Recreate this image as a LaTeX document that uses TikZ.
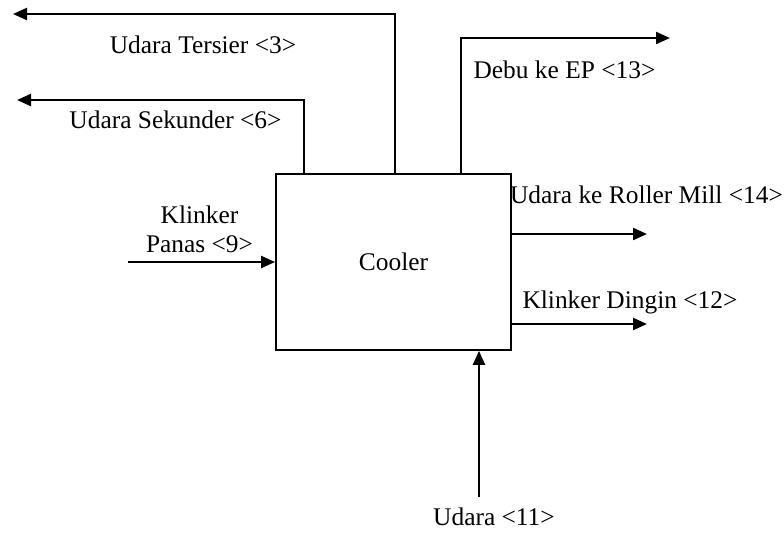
\documentclass[tikz,border=0pt]{standalone}
\usepackage{fontspec}
\setmainfont{Liberation Serif}
\usetikzlibrary{arrows.meta}
\begin{document}
\begin{tikzpicture}[x=0.5pt,y=-0.5pt,
		flow/.style={line width=1.1pt,-{Triangle[length=7pt,width=6pt]}},
		lbl/.style={font=\fontsize{12.7}{14.5}\selectfont,inner sep=0pt,anchor=base}]
	\useasboundingbox (0,0) rectangle (784,538);
	\node[draw,line width=0.9pt,minimum width=117.5pt,minimum height=88pt,font=\fontsize{12.7}{14.5}\selectfont] (cooler) at (393.5,262) {Cooler};
	\coordinate (tersier) at (395,14);
	\coordinate (tersierend) at (13,14);
	\coordinate (sekunder) at (304,100);
	\coordinate (sekunderend) at (17,100);
	\coordinate (debu) at (461,38);
	\coordinate (debuend) at (670,38);
	\coordinate (mill) at (647,234);
	\coordinate (dingin) at (647,324);
	\coordinate (udara) at (479,497);
	\coordinate (panas) at (128,262);
	\draw[flow] (cooler.north -| tersier) -- (tersier) -- (tersierend);
	\draw[flow] (cooler.north -| sekunder) -- (sekunder) -- (sekunderend);
	\draw[flow] (cooler.north -| debu) -- (debu) -- (debuend);
	\draw[flow] (cooler.east |- mill) -- (mill);
	\draw[flow] (cooler.east |- dingin) -- (dingin);
	\draw[flow] (udara) -- (cooler.south -| udara);
	\draw[flow] (panas) -- (cooler.west);
	\node[lbl] (tersierlbl) at (203,53) {Udara Tersier <3>};
	\node[lbl] (sekunderlbl) at (175.5,128) {Udara Sekunder <6>};
	\node[lbl] (debulbl) at (564.5,78) {Debu ke EP <13>};
	\node[lbl] (milllbl) at (646.5,203) {Udara ke Roller Mill <14>};
	\node[lbl] (dinginlbl) at (630,308) {Klinker Dingin <12>};
	\node[lbl] (udaralbl) at (494,525) {Udara <11>};
	\node[lbl,align=center] (panaslbl) at (199.5,252) {Klinker\\Panas <9>};
\end{tikzpicture}
\end{document}
